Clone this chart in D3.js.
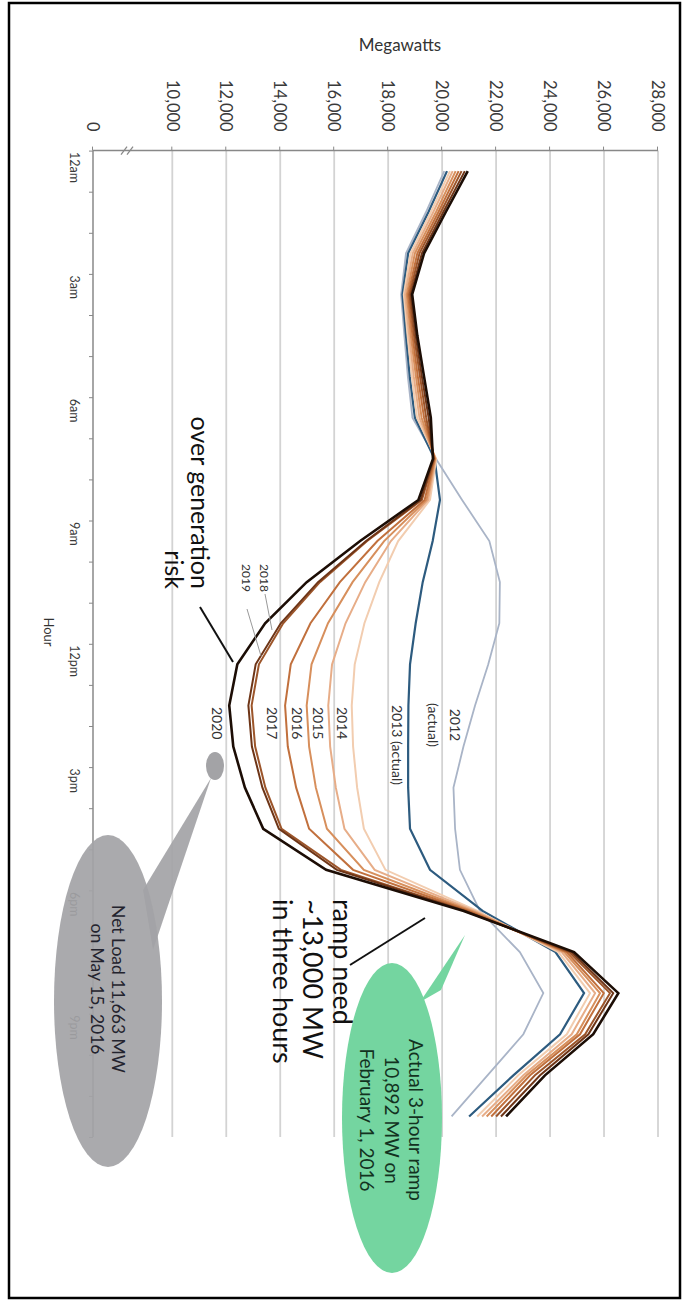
<!DOCTYPE html>
<html lang="en">
<head>
<meta charset="utf-8">
<title>Net load by hour, 2012-2020</title>
<script src="https://cdn.jsdelivr.net/npm/d3@7/dist/d3.min.js"></script>
<style>
    body { margin: 0; background: #fff; }
    text { font-family: Lato, "Open Sans", sans-serif; }
    .tick text { fill: #3a3a3a; }
</style>
</head>
<body>
<script>
    var W = 684, H = 1301;

    // hour of each point (hourly values, plotted mid-hour)
    var hours = [0.5, 1.5, 2.5, 3.5, 4.5, 5.5, 6.5, 7.5, 8.5, 9.5, 10.5, 11.5,
                 12.5, 13.5, 14.5, 15.5, 16.5, 17.5, 18.5, 19.5, 20.5, 21.5, 22.5, 23.5];

    var years = ["2012", "2013", "2014", "2015", "2016", "2017", "2018", "2019", "2020"];

    // net load, megawatts
    var mw2012 = [20080, 19400, 18660, 18480, 18600, 18730, 18900, 19770, 20740, 21750, 22140, 22120,
                  21710, 21220, 20790, 20420, 20480, 20660, 21400, 22880, 23750, 23010, 21680, 20350];
    var mw2013 = [20180, 19490, 18740, 18530, 18660, 18800, 18990, 19720, 19920, 19650, 19280, 19020,
                  18810, 18750, 18740, 18740, 18810, 19550, 21500, 24200, 25260, 24370, 22640, 21000];
    var mw2014 = [20290, 19580, 18830, 18580, 18720, 18880, 19070, 19780, 19550, 18370, 17670, 17120,
                  16760, 16650, 16700, 16850, 17100, 17900, 21300, 24310, 25480, 24620, 22820, 21300];
    var mw2015 = [20390, 19670, 18910, 18630, 18780, 18950, 19160, 19760, 19480, 18100, 17150, 16420,
                  15920, 15780, 15850, 16060, 16380, 17500, 21200, 24430, 25670, 24800, 23010, 21480];
    var mw2016 = [20500, 19770, 18990, 18690, 18840, 19030, 19240, 19740, 19420, 17850, 16680, 15770,
                  15160, 14980, 15070, 15320, 15730, 17100, 21100, 24530, 25850, 24990, 23130, 21650];
    var mw2017 = [20610, 19860, 19080, 18740, 18900, 19100, 19330, 19720, 19350, 17600, 16210, 15120,
                  14390, 14180, 14280, 14590, 15070, 16700, 21000, 24620, 25990, 25110, 23260, 21820];
    var mw2018 = [20720, 19950, 19160, 18790, 18960, 19180, 19410, 19700, 19250, 17220, 15470, 14110,
                  13210, 12940, 13070, 13450, 14050, 16250, 20900, 24710, 26220, 25300, 23440, 22000];
    var mw2019 = [20840, 20040, 19250, 18840, 19020, 19250, 19500, 19680, 19200, 17180, 15400, 14020,
                  13090, 12820, 12950, 13340, 13950, 16100, 20850, 24800, 26340, 25420, 23630, 22180];
    var mw2020 = [20950, 20130, 19330, 18890, 19080, 19330, 19580, 19660, 19120, 16960, 14980, 13440,
                  12410, 12110, 12260, 12690, 13370, 15700, 20800, 24890, 26530, 25600, 23810, 22370];

    var mwTicks = [0, 10000, 12000, 14000, 16000, 18000, 20000, 22000, 24000, 26000, 28000];
    var hourTicks = [0, 3, 6, 9, 12, 15, 18, 21];
    var hourLabels = ["12am", "3am", "6am", "9am", "12pm", "3pm", "6pm", "9pm"];

    var lineColors = ["#a9b4c7", "#2d5b7f", "#f2cdb0", "#e7ad88", "#d78f5c", "#c1703d", "#9c552a", "#6e3517", "#1c0d05"];
    var lineWidths = [1.8, 2.2, 2, 2, 2, 2, 2, 2, 2.6];

    var series = [mw2012, mw2013, mw2014, mw2015, mw2016, mw2017, mw2018, mw2019, mw2020].map(function (v, i) {
        return {year: years[i], values: v, color: lineColors[i], width: lineWidths[i]};
    });

    var svg = d3.select("body").append("svg")
        .attr("width", W)
        .attr("height", H);

    svg.append("rect")
        .attr("x", 9).attr("y", 3)
        .attr("width", 671).attr("height", 1295)
        .attr("fill", "none")
        .attr("stroke", "#000")
        .attr("stroke-width", 2.5);

    // the chart is drawn upright and turned a quarter turn clockwise
    var g = svg.append("g")
        .attr("transform", "translate(" + W + ",0) rotate(90)");

    var x = d3.scaleLinear().domain([0, 24]).range([150.6, 1137]);
    // broken axis: 0 to 10,000 squeezed
    var y = d3.scaleLinear().domain([0, 10000, 28000]).range([591, 511.7, 26]);

    //gridlines
    g.append("g").selectAll("line")
        .data(mwTicks.filter(function (d) { return d > 0; }))
        .enter().append("line")
        .attr("x1", x(0)).attr("x2", x(24))
        .attr("y1", function (d) { return y(d); })
        .attr("y2", function (d) { return y(d); })
        .attr("stroke", "#d3d3d3")
        .attr("stroke-width", 1.8);

    //megawatt axis
    var yAxis = g.append("g")
        .attr("transform", "translate(" + x(0) + ",0)")
        .call(d3.axisLeft(y)
            .tickValues(mwTicks)
            .tickFormat(d3.format(","))
            .tickSize(4)
            .tickPadding(15));
    yAxis.select(".domain").remove();
    yAxis.selectAll("line").attr("stroke", "#888");
    yAxis.selectAll("text").attr("font-size", 16.5);

    //hour axis
    var xAxis = g.append("g")
        .attr("transform", "translate(0," + y(0) + ")")
        .call(d3.axisBottom(x)
            .tickValues(d3.range(0, 25))
            .tickFormat(function (d) {
                var k = hourTicks.indexOf(d);
                return k < 0 ? "" : hourLabels[k];
            })
            .tickSize(4)
            .tickPadding(10));
    xAxis.select(".domain").remove();
    xAxis.selectAll("line").attr("stroke", "#888");
    xAxis.selectAll("text")
        .attr("font-size", 12.5)
        .attr("text-anchor", "start")
        .attr("x", 1);

    // axis lines
    g.append("line")
        .attr("x1", x(0)).attr("x2", x(0))
        .attr("y1", y(0)).attr("y2", y(28000))
        .attr("stroke", "#888").attr("stroke-width", 1.5);
    g.append("line")
        .attr("x1", x(0)).attr("x2", x(24))
        .attr("y1", y(0)).attr("y2", y(0))
        .attr("stroke", "#888").attr("stroke-width", 1.5);

    // break mark
    [0, 6].forEach(function (o) {
        g.append("line")
            .attr("x1", x(0) + 4).attr("y1", y(0) - 28 - o)
            .attr("x2", x(0) - 4).attr("y2", y(0) - 34 - o)
            .attr("stroke", "#888").attr("stroke-width", 1.2);
    });

    g.append("text")
        .attr("transform", "translate(45," + (W - 400) + ") rotate(-90)")
        .attr("text-anchor", "middle")
        .attr("dy", "0.35em")
        .attr("font-size", 17)
        .attr("fill", "#333")
        .text("Megawatts");

    g.append("text")
        .attr("x", 632).attr("y", W - 49)
        .attr("text-anchor", "middle")
        .attr("dy", "0.35em")
        .attr("font-size", 13)
        .attr("fill", "#333")
        .text("Hour");

    //curves
    var line = d3.line()
        .x(function (d, i) { return x(hours[i]); })
        .y(function (d) { return y(d); });

    g.append("g").selectAll("path")
        .data(series)
        .enter().append("path")
        .attr("fill", "none")
        .attr("stroke", function (d) { return d.color; })
        .attr("stroke-width", function (d) { return d.width; })
        .attr("stroke-linejoin", "miter")
        .attr("d", function (d) { return line(d.values); });

    // curve labels (positions given in picture coordinates, X across, Y down)
    function label(text, X, Y, size, anchor, color) {
        return g.append("text")
            .attr("x", Y).attr("y", W - X)
            .attr("dy", "0.35em")
            .attr("text-anchor", anchor || "start")
            .attr("font-size", size)
            .attr("fill", color || "#333")
            .text(text);
    }
    label("2020", 217, 707, 14);
    label("2017", 272, 707, 14);
    label("2016", 297, 707, 14);
    label("2015", 318, 707, 14);
    label("2014", 342, 707, 14);
    label("2013 (actual)", 397, 705, 14);
    label("2012", 455, 725, 14, "middle");
    label("(actual)", 433, 725, 14, "middle");
    label("2018", 264, 564, 12);
    label("2019", 246, 564, 12);

    function seg(X1, Y1, X2, Y2, color, w) {
        g.append("line")
            .attr("x1", Y1).attr("y1", W - X1)
            .attr("x2", Y2).attr("y2", W - X2)
            .attr("stroke", color).attr("stroke-width", w);
    }
    seg(265, 594, 272, 630, "#999", 1);
    seg(247, 609, 261, 656, "#999", 1);

    // over generation risk
    label("over generation", 200, 589, 25, "end", "#111");
    label("risk", 174, 589, 25, "end", "#111");
    seg(200, 607, 233, 662, "#111", 2);

    // ramp need
    label("ramp need", 342, 899, 27, "start", "#111");
    label("~13,000 MW", 312, 899, 27, "start", "#111");
    label("in three hours", 282, 899, 27, "start", "#111");
    seg(350, 965, 425, 918, "#111", 2);

    // grey call-out
    function pt(X, Y) { return [Y, W - X]; }
    g.append("path")
        .attr("d", d3.line()([pt(211, 778), pt(143, 890), pt(153, 950)]) + "Z")
        .attr("fill", "#a3a3a6").attr("fill-opacity", 0.92);
    g.append("ellipse")
        .attr("cx", 766).attr("cy", W - 215)
        .attr("rx", 14).attr("ry", 9)
        .attr("fill", "#a3a3a6");
    g.append("ellipse")
        .attr("cx", 1001).attr("cy", W - 108)
        .attr("rx", 166).attr("ry", 54)
        .attr("fill", "#a3a3a6").attr("fill-opacity", 0.92);
    label("Net Load 11,663 MW", 118, 989, 17.5, "middle", "#23232e");
    label("on May 15, 2016", 97, 989, 17.5, "middle", "#23232e");

    // green call-out
    g.append("path")
        .attr("d", d3.line()([pt(465, 935), pt(420, 1002), pt(441, 990)]) + "Z")
        .attr("fill", "#74d5a0");
    g.append("ellipse")
        .attr("cx", 1118).attr("cy", W - 392)
        .attr("rx", 155).attr("ry", 50)
        .attr("fill", "#74d5a0");
    label("Actual 3-hour ramp", 416, 1120, 19, "middle", "#13321f");
    label("10,892 MW on", 392, 1120, 19, "middle", "#13321f");
    label("February 1, 2016", 367, 1120, 19, "middle", "#13321f");
</script>
</body>
</html>
